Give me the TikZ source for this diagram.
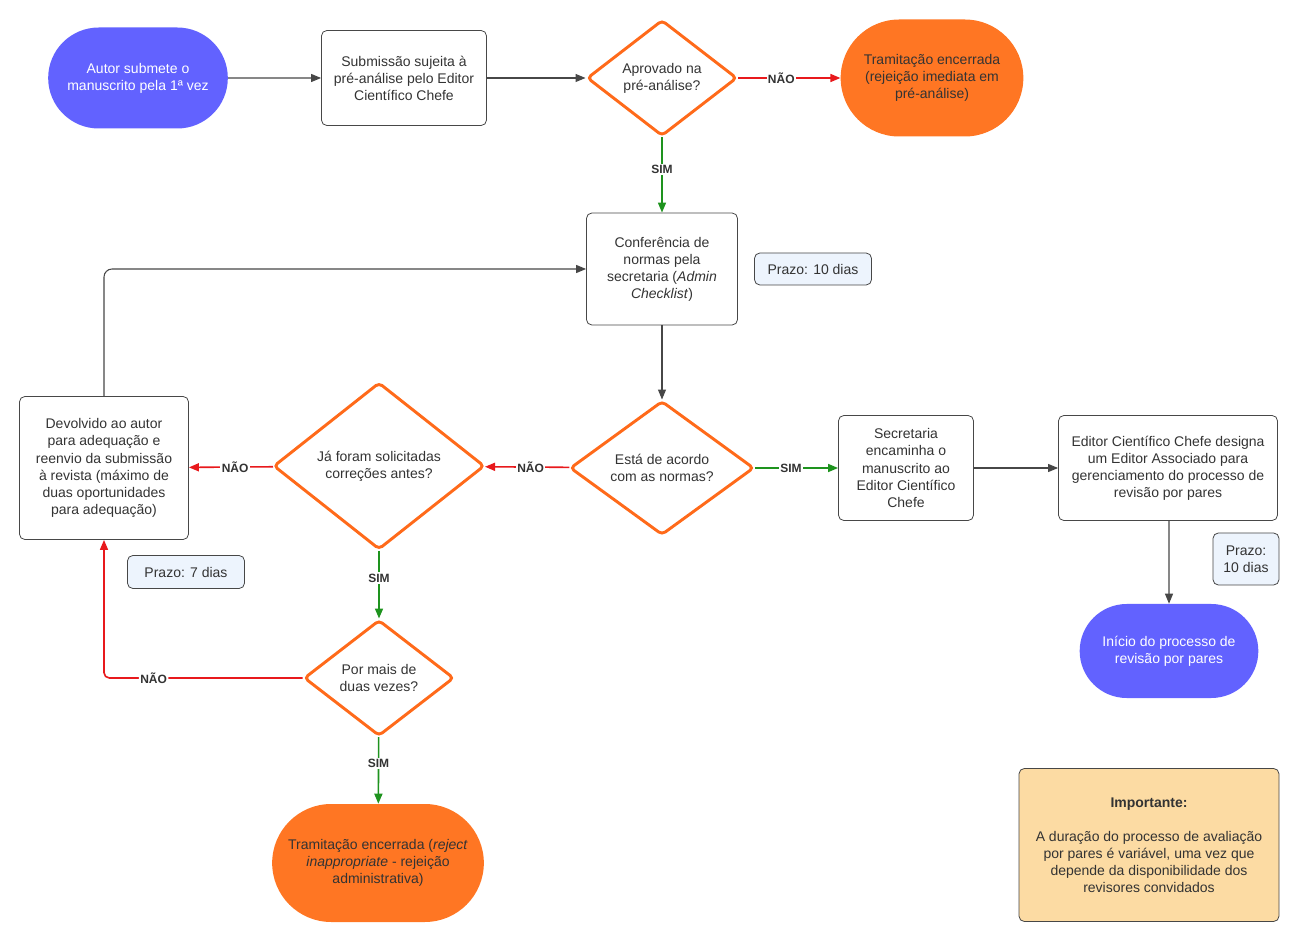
\documentclass[tikz,border=0pt]{standalone}
\usepackage{fontspec}
\setmainfont{Liberation Sans}
\usetikzlibrary{shapes.geometric,shapes.misc,arrows.meta}
\definecolor{autorblue}{HTML}{6262FF}
\definecolor{fimorange}{HTML}{FF7623}
\definecolor{decorange}{HTML}{FF6A1A}
\definecolor{naored}{HTML}{E8191C}
\definecolor{simgreen}{HTML}{1E931E}
\definecolor{linegray}{HTML}{474747}
\definecolor{txt}{HTML}{333333}
\definecolor{prazofill}{HTML}{EDF4FD}
\definecolor{notafill}{HTML}{FCDBA3}
\begin{document}
\begin{tikzpicture}[x=0.75pt,y=-0.75pt,>={Triangle[length=7.5pt,width=6pt]},
  font=\fontsize{10.5}{12.8}\selectfont,
  box/.style={draw=linegray,line width=0.6pt,rounded corners=4pt,align=center,text=txt,inner sep=2pt},
  prazo/.style={box,fill=prazofill},
  decisao/.style={diamond,draw=decorange,line width=2.2pt,rounded corners=3pt,align=center,text=txt,inner sep=0pt},
  term/.style={rounded rectangle,align=center,inner sep=2pt},
  seta/.style={->,draw=linegray,line width=0.8pt},
  sim/.style={->,draw=simgreen,line width=1.2pt},
  nao/.style={->,draw=naored,line width=1.2pt},
  rot/.style={fill=white,text=txt,inner sep=1pt,font=\fontsize{9}{10}\selectfont\bfseries}]
\useasboundingbox (0,0) rectangle (1300,944);
% linha de cima
\node[term,fill=autorblue,text=white,minimum width=138.75pt,minimum height=75.75pt] (autor) at (138,78) {Autor submete o\\manuscrito pela 1ª vez};
\node[box,minimum width=123.75pt,minimum height=71.25pt] (preanalise) at (404,78) {Submissão sujeita à\\pré-análise pelo Editor\\Científico Chefe};
\node[decisao,minimum width=112.5pt,minimum height=87pt] (aprovado) at (662,78) {Aprovado na\\pré-análise?};
\node[term,fill=fimorange,text=txt,minimum width=141pt,minimum height=87.75pt] (rejeicao) at (932,78) {Tramitação encerrada\\(rejeição imediata em\\pré-análise)};
% conferencia
\node[box,minimum width=113.25pt,minimum height=84pt] (conferencia) at (662,269) {Conferência de\\normas pela\\secretaria (\textit{Admin}\\\textit{Checklist})};
\node[prazo,minimum width=87.75pt,minimum height=24pt] (prazoA) at (813,269) {Prazo: 10 dias};
\node[decisao,minimum width=138pt,minimum height=100.5pt] (normas) at (662,468) {Está de acordo\\com as normas?};
\node[box,minimum width=101.25pt,minimum height=78.75pt] (encaminha) at (906,468) {Secretaria\\encaminha o\\manuscrito ao\\Editor Científico\\Chefe};
\node[box,minimum width=164.25pt,minimum height=78.75pt] (designa) at (1168,468) {Editor Científico Chefe designa\\um Editor Associado para\\gerenciamento do processo de\\revisão por pares};
\node[prazo,minimum width=49.5pt,minimum height=39pt] (prazoC) at (1246,559) {Prazo:\\10 dias};
\node[term,fill=autorblue,text=white,minimum width=138pt,minimum height=70.5pt] (inicio) at (1169,651) {Início do processo de\\revisão por pares};
\node[box,fill=notafill,minimum width=195pt,minimum height=114.75pt] (importante) at (1149,845) {\textbf{Importante:}\\[12.8pt]A duração do processo de avaliação\\por pares é variável, uma vez que\\depende da disponibilidade dos\\revisores convidados};
% lado esquerdo
\node[decisao,minimum width=158.25pt,minimum height=125.25pt] (correcoes) at (379,466) {Já foram solicitadas\\correções antes?};
\node[box,minimum width=126.75pt,minimum height=107.25pt] (devolvido) at (104,468) {Devolvido ao autor\\para adequação e\\reenvio da submissão\\à revista (máximo de\\duas oportunidades\\para adequação)};
\node[prazo,minimum width=87.75pt,minimum height=24.75pt] (prazoB) at (186,572) {Prazo: 7 dias};
\node[decisao,minimum width=112.5pt,minimum height=87pt] (vezes) at (379,678) {Por mais de\\duas vezes?};
\node[term,fill=fimorange,text=txt,minimum width=162.75pt,minimum height=88.5pt] (administrativa) at (378,863) {Tramitação encerrada (\textit{reject}\\\textit{inappropriate} - rejeição\\administrativa)};
% conexoes
\draw[seta] (autor) -- (preanalise);
\draw[seta] (preanalise) -- (aprovado);
\draw[nao] (aprovado) -- node[rot,pos=0.42]{NÃO} (rejeicao);
\draw[sim] (aprovado) -- node[rot,pos=0.43]{SIM} (conferencia);
\draw[seta] (conferencia) -- (normas);
\draw[sim] (normas) -- node[rot,pos=0.43]{SIM} (encaminha);
\draw[seta] (encaminha) -- (designa);
\draw[seta] (designa.south -| inicio.north) -- (inicio);
\draw[nao] (normas) -- node[rot,pos=0.46]{NÃO} (correcoes);
\draw[nao] (correcoes) -- node[rot,pos=0.45]{NÃO} (devolvido);
\draw[sim] (correcoes) -- node[rot,pos=0.4]{SIM} (vezes);
\draw[sim] (vezes) -- node[rot,pos=0.4]{SIM} (administrativa);
\draw[nao,rounded corners=4pt] (vezes) -| node[rot,pos=0.375]{NÃO} (devolvido);
\draw[seta,rounded corners=6pt] (devolvido) |- (conferencia);
\end{tikzpicture}
\end{document}
